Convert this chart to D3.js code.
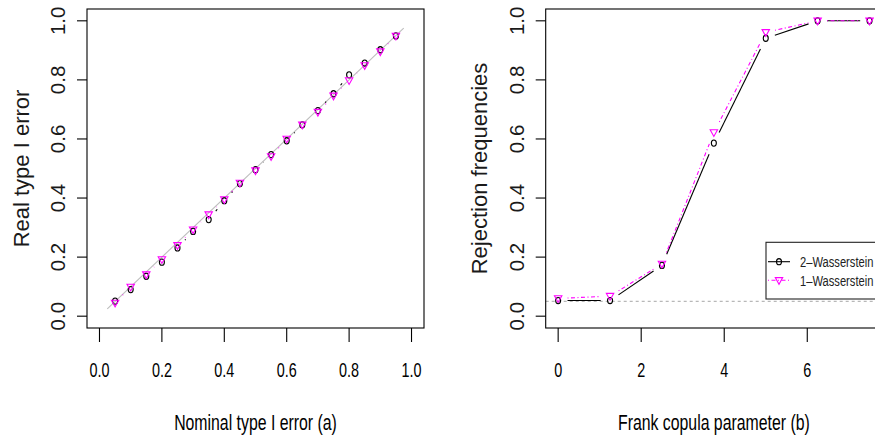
<!DOCTYPE html>
<html><head><meta charset="utf-8">
<script src="https://cdn.jsdelivr.net/npm/d3@7"></script>
<style>body{margin:0;background:#fff}svg{display:block}text{font-family:"Liberation Sans",Arial,Helvetica,sans-serif}</style>
</head><body><svg id="c" width="875" height="442"></svg>
<script>
// ---- data ----
const nominalLevels = [0.05,0.10,0.15,0.20,0.25,0.30,0.35,0.40,0.45,0.50,0.55,0.60,0.65,0.70,0.75,0.80,0.85,0.90,0.95];
const typeI_W2 = [0.051,0.090,0.135,0.183,0.231,0.287,0.327,0.391,0.449,0.496,0.547,0.594,0.648,0.696,0.753,0.817,0.857,0.902,0.949];
const typeI_W1 = [0.045,0.099,0.141,0.192,0.240,0.293,0.344,0.395,0.451,0.493,0.541,0.600,0.648,0.691,0.746,0.798,0.849,0.896,0.949];
const diagRange = [0.025, 0.975];
const frankParam = [0, 1.25, 2.5, 3.75, 5, 6.25, 7.5];
const reject_W2 = [0.053,0.053,0.172,0.586,0.941,1.0,1.0];
const reject_W1 = [0.060,0.068,0.177,0.622,0.961,1.0,1.0];
const nominalLevel = 0.05;
const leftXTicks = [0,0.2,0.4,0.6,0.8,1.0];
const rightXTicks = [0,2,4,6];
const yTicks = [0,0.2,0.4,0.6,0.8,1.0];
const seriesNames = ["2\u2013Wasserstein","1\u2013Wasserstein"];
const xTitles = ["Nominal type I error (a)","Frank copula parameter (b)"];
const yTitles = ["Real type I error","Rejection frequencies"];

const svg = d3.select("#c");
svg.append("rect").attr("width",875).attr("height",442).attr("fill","#fff");
const SX = 0.72; // horizontal narrowing of upright text
const MAG = "#ff00ff";

function hText(g, x, y, str, size, anchor, fill){
  g.append("text").attr("transform",`translate(${x},${y}) scale(${SX},1)`)
   .attr("text-anchor",anchor||"middle").attr("font-size",size).attr("fill",fill||"#000").text(str);
}
function vText(g, x, y, str, size){
  g.append("text").attr("transform",`translate(${x},${y}) rotate(-90)`)
   .attr("text-anchor","middle").attr("font-size",size).attr("fill","#1a1a1a").text(str);
}
function circ(g,x,y){ g.append("ellipse").attr("cx",x).attr("cy",y).attr("rx",2.5).attr("ry",3.1).attr("fill","none").attr("stroke","#000").attr("stroke-width",1.1); }
function tri(g,x,y){
  const w=3.7,h=3.6;
  g.append("path").attr("d",`M${x-w},${y-h*0.75}L${x+w},${y-h*0.75}L${x},${y+h*1.1}Z`)
   .attr("fill","none").attr("stroke",MAG).attr("stroke-width",1.1);
}
// type="b" lines: segments with gaps around points
function gapLines(g, pts, color, dash, gap){
  for(let i=0;i<pts.length-1;i++){
    const [x0,y0]=pts[i],[x1,y1]=pts[i+1];
    const ux=(x1-x0)/SX, uy=y1-y0, d=Math.hypot(ux,uy);
    if(d<=2*gap) continue;
    const f0=gap/d, f1=1-gap/d;
    g.append("line").attr("x1",x0+(x1-x0)*f0).attr("y1",y0+(y1-y0)*f0)
     .attr("x2",x0+(x1-x0)*f1).attr("y2",y0+(y1-y0)*f1)
     .attr("stroke",color).attr("stroke-width",1.1).attr("stroke-dasharray",dash||null);
  }
}

function panel(opts){
  const g = svg.append("g");
  const x = d3.scaleLinear().domain(opts.xdom).range([opts.left, opts.right]);
  const y = d3.scaleLinear().domain([-0.04,1.04]).range([328,9]);
  const bot=328, top=9;
  const clipId="clip"+opts.id;
  svg.append("clipPath").attr("id",clipId).append("rect").attr("x",opts.left).attr("y",top).attr("width",opts.right-opts.left).attr("height",bot-top);
  const inner = g.append("g").attr("clip-path",`url(#${clipId})`);
  opts.draw(inner, x, y);
  // box
  g.append("rect").attr("x",opts.left).attr("y",top).attr("width",opts.right-opts.left).attr("height",bot-top)
   .attr("fill","none").attr("stroke","#000").attr("stroke-width",1.1);
  // x axis
  opts.xticks.forEach(t=>{
    g.append("line").attr("x1",x(t)).attr("x2",x(t)).attr("y1",bot).attr("y2",bot+14).attr("stroke","#000").attr("stroke-width",1.1);
    hText(g, x(t), 377, opts.xfmt(t), 20);
  });
  // y axis
  yTicks.forEach(t=>{
    g.append("line").attr("x1",opts.left).attr("x2",opts.left-10).attr("y1",y(t)).attr("y2",y(t)).attr("stroke","#000").attr("stroke-width",1.1);
    vText(g, opts.left-22, y(t), d3.format(".1f")(t), 20.5);
  });
  hText(g, (opts.left+opts.right)/2, 430, opts.xtitle, 22);
  vText(g, opts.ytitleX, (top+bot)/2, opts.ytitle, 22);
  return {x,y,g};
}

// left panel
panel({id:"a", xdom:[-0.04,1.04], left:87, right:424, xticks:leftXTicks, xfmt:d3.format(".1f"),
  xtitle:xTitles[0], ytitle:yTitles[0], ytitleX:29,
  draw:(g,x,y)=>{
    g.append("line").attr("x1",x(diagRange[0])).attr("y1",y(diagRange[0])).attr("x2",x(diagRange[1])).attr("y2",y(diagRange[1]))
     .attr("stroke","#bdbdbd").attr("stroke-width",1.1);
    const p2 = nominalLevels.map((v,i)=>[x(v),y(typeI_W2[i])]);
    const p1 = nominalLevels.map((v,i)=>[x(v),y(typeI_W1[i])]);
    gapLines(g,p2,"#000",null,13);
    gapLines(g,p1,MAG,"1,2.5,4,2.5",13);
    p2.forEach(p=>circ(g,p[0],p[1]));
    p1.forEach(p=>tri(g,p[0],p[1]));
  }});

// right panel
panel({id:"b", xdom:[-0.3,7.8], left:545.7, right:882, xticks:rightXTicks, xfmt:d3.format("d"),
  xtitle:xTitles[1], ytitle:yTitles[1], ytitleX:487,
  draw:(g,x,y)=>{
    g.append("line").attr("x1",x(-0.3)).attr("x2",x(7.8)).attr("y1",y(nominalLevel)).attr("y2",y(nominalLevel))
     .attr("stroke","#b8b8b8").attr("stroke-width",1.1).attr("stroke-dasharray","3,3");
    const p2 = frankParam.map((v,i)=>[x(v),y(reject_W2[i])]);
    const p1 = frankParam.map((v,i)=>[x(v),y(reject_W1[i])]);
    gapLines(g,p2,"#000",null,13);
    gapLines(g,p1,MAG,"1,2.5,4,2.5",13);
    p2.forEach(p=>circ(g,p[0],p[1]));
    p1.forEach(p=>tri(g,p[0],p[1]));
    // legend
    const lg = g.append("g");
    lg.append("rect").attr("x",766).attr("y",242.3).attr("width",140).attr("height",56.7)
      .attr("fill","#fff").attr("stroke","#222").attr("stroke-width",1.1);
    const rows=[261.7,280.3];
    lg.append("line").attr("x1",768).attr("x2",790).attr("y1",rows[0]).attr("y2",rows[0]).attr("stroke","#000").attr("stroke-width",1.1);
    circ(lg,779,rows[0]);
    lg.append("line").attr("x1",768).attr("x2",790).attr("y1",rows[1]).attr("y2",rows[1]).attr("stroke",MAG).attr("stroke-width",1.1).attr("stroke-dasharray","1,2.5,4,2.5");
    tri(lg,779,rows[1]);
    seriesNames.forEach((s,i)=>hText(lg,800,rows[i]+5.5,s,15.5,"start","#222"));
  }});
</script></body></html>
